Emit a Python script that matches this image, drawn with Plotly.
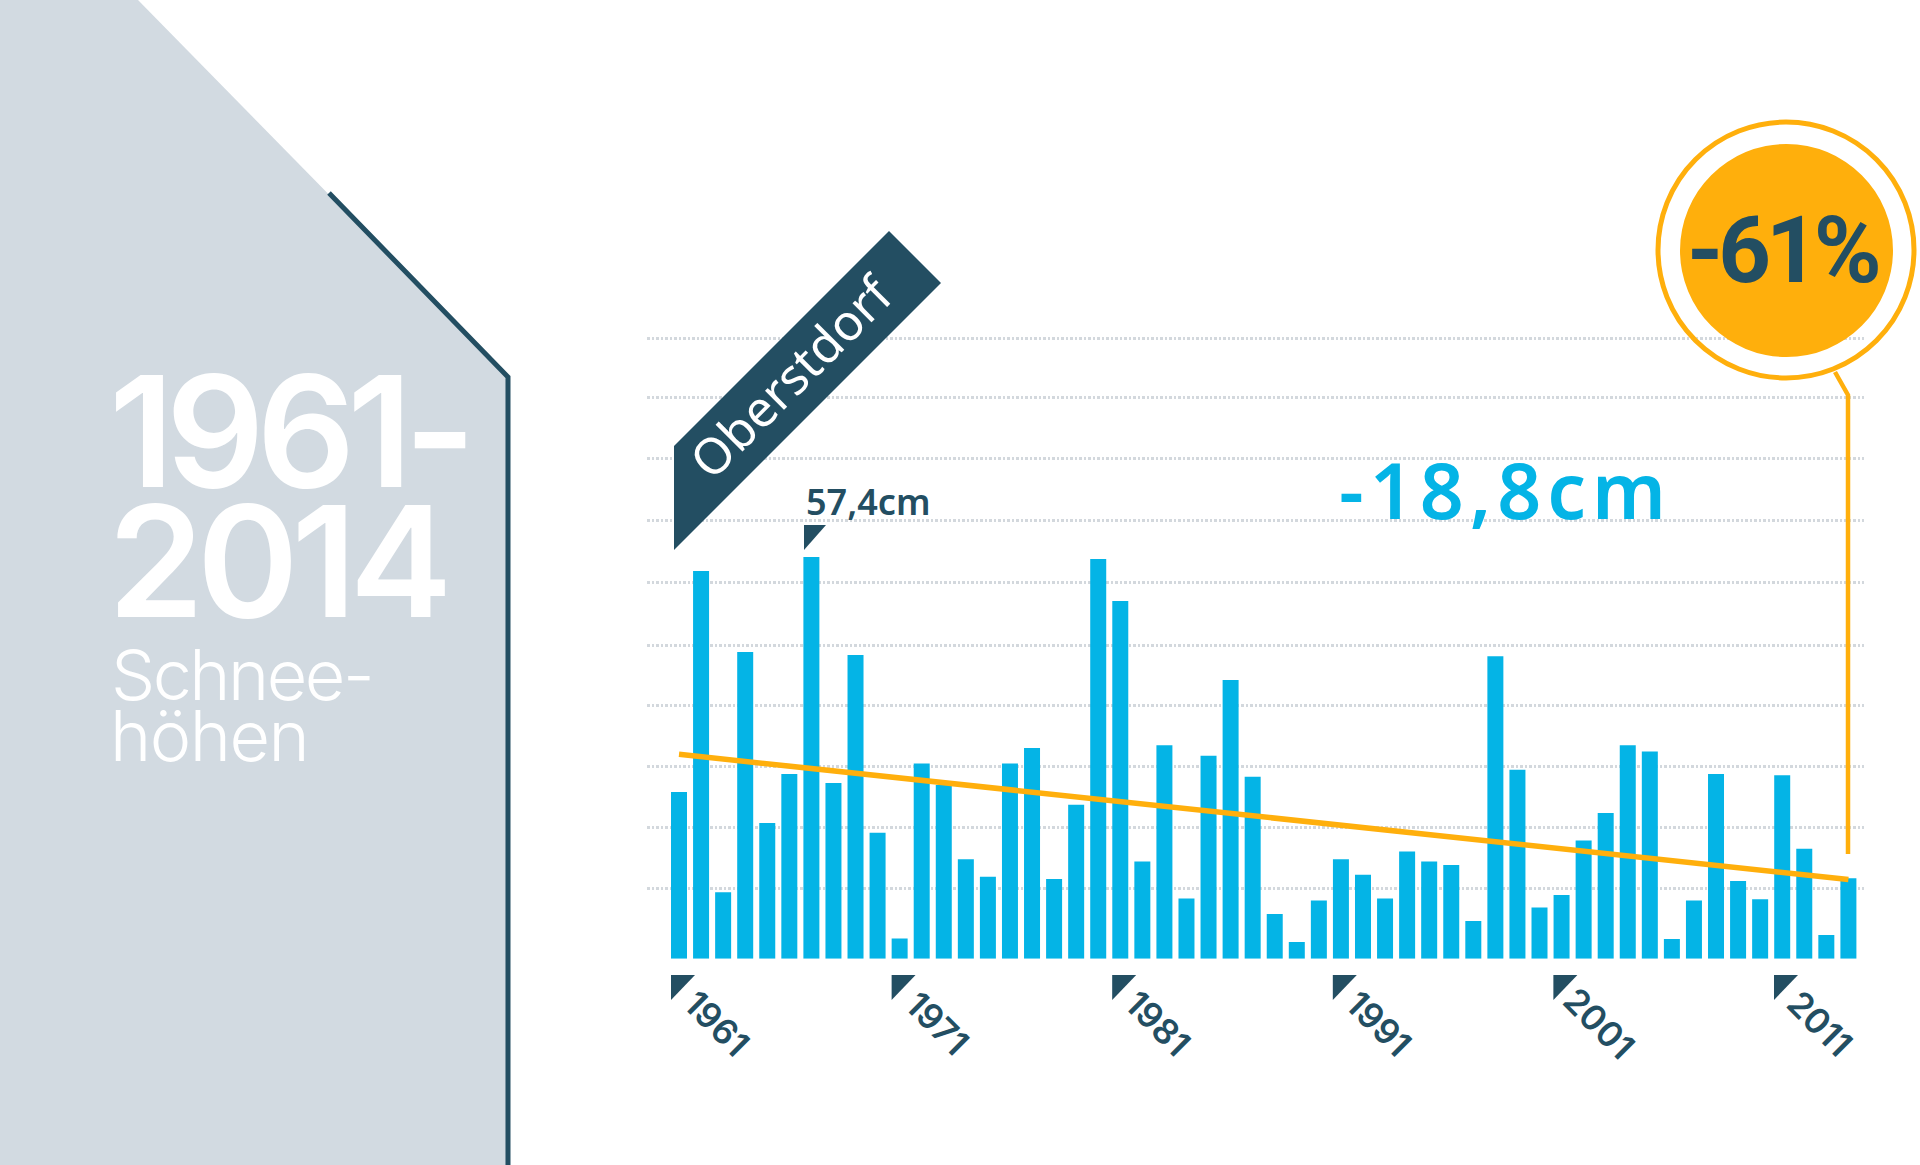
import plotly.graph_objs as go

W, H = 1920, 1165

# Schneehoehen Oberstdorf [cm]
years = list(range(1961, 2015))
snow_cm = [23.8, 55.4, 9.5, 43.8, 19.4, 26.4, 57.4, 25.1, 43.4, 18.0,
           2.9, 27.9, 24.8, 14.2, 11.7, 27.9, 30.1, 11.4, 22.0, 57.1,
           51.1, 13.9, 30.5, 8.6, 29.0, 39.8, 26.0, 6.4, 2.4, 8.3,
           14.2, 12.0, 8.6, 15.3, 13.9, 13.4, 5.4, 43.2, 27.0, 7.3,
           9.1, 16.9, 20.8, 30.5, 29.6, 2.8, 8.3, 26.4, 11.1, 8.5,
           26.2, 15.7, 3.4, 11.5]
trend_years = [1961, 2014]
trend_cm = [29.2, 11.3]
grid_cm = [0, 9.98, 18.8, 27.5, 36.2, 44.8, 53.7, 62.6, 71.4, 80.2, 88.6]
tick_years = [1961, 1971, 1981, 1991, 2001, 2011]

BLUE = '#04b4e6'
ORANGE = '#ffaf0c'
DARK = '#234e62'
PANEL = '#d2dae1'
GRID = '#d3d8dd'
FONT = 'Noto Sans'

# pixel helpers for the decoration around the chart
def px(x):
    return x / W

def py(y):
    return 1 - y / H

def path(points, close=True):
    d = 'M ' + ' L '.join(f'{px(x):.5f},{py(y):.5f}' for x, y in points)
    return d + (' Z' if close else '')

def spaced(text, spacing):
    return f'<span style="letter-spacing:{spacing}px">{text}</span>'

def label(text, x, y, size, color, weight=400, angle=0, anchor='left', family=FONT):
    return dict(text=text, x=px(x), y=py(y), xref='paper', yref='paper',
                xanchor=anchor, yanchor='middle', showarrow=False, textangle=angle,
                font=dict(family=family, size=size, color=color, weight=weight))

fig = go.Figure()
fig.add_trace(go.Bar(x=years, y=snow_cm, marker=dict(color=BLUE, line_width=0)))
fig.add_trace(go.Scatter(x=trend_years, y=trend_cm, mode='lines',
                         line=dict(color=ORANGE, width=5.5)))

shapes = [
    dict(type='path', path=path([(0, 0), (138, 0), (508, 377), (508, H), (0, H)]),
         fillcolor=PANEL, line_width=0, layer='below'),
    dict(type='path', path=path([(329, 193), (508, 377), (508, H)], close=False),
         line=dict(color=DARK, width=5)),
    # Oberstdorf banner
    dict(type='path', path=path([(889, 231), (941, 283), (674, 550), (674, 446)]),
         fillcolor=DARK, line_width=0),
    # 57,4cm pointer
    dict(type='path', path=path([(804, 525), (826, 525), (804, 550)]),
         fillcolor=DARK, line_width=0),
    # -61% bubble and its stem
    dict(type='path', path=path([(1835, 372), (1848, 395), (1848, 854)], close=False),
         line=dict(color=ORANGE, width=4.5)),
    dict(type='circle', xref='paper', yref='paper', x0=px(1658), x1=px(1914), y0=py(122), y1=py(378),
         line=dict(color=ORANGE, width=5)),
    dict(type='circle', xref='paper', yref='paper', x0=px(1680), x1=px(1893), y0=py(144), y1=py(357),
         fillcolor=ORANGE, line_width=0),
]
for s in shapes:
    if s['type'] == 'path':
        s.update(xref='paper', yref='paper')

pitch = 22.06
x_start = 679
for yr in tick_years:
    left = x_start + (yr - 1961) * pitch - 8
    shapes.append(dict(type='path', xref='paper', yref='paper', line_width=0, fillcolor=DARK,
                       path=path([(left, 975), (left + 24, 975), (left, 1000)])))

annotations = [
    label(spaced('1961-', -8), 107, 431, 154, 'white', 600, family='Inter'),
    label(spaced('2014', -7), 106, 561, 154, 'white', 600, family='Inter'),
    label(spaced('Schnee-', -2.5), 109, 674, 70, 'white', 300, family='Inter'),
    label(spaced('höhen', -1.5), 108, 735, 70, 'white', 300, family='Inter'),
    label('Oberstdorf', 791, 376, 50, 'white', 400, angle=-45, anchor='center'),
    label('57,4cm', 804, 501, 36, DARK, 600),
    label(spaced('-18,8cm', 6), 1337, 489, 77, BLUE, 600),
    label(spaced('-61%', -5), 1783, 250, 92, DARK, 700, anchor='center', family='Roboto'),
]
for yr in tick_years:
    annotations.append(label(str(yr), x_start + (yr - 1961) * pitch + 38, 1023, 35, DARK, 600,
                             angle=45, anchor='center', family='Inter'))

base_y = 958.7
cm_px = 7.0
y_top = 90
fig.update_layout(
    width=W, height=H, margin=dict(l=0, r=0, t=0, b=0),
    paper_bgcolor='white', plot_bgcolor='rgba(0,0,0,0)',
    showlegend=False, bargap=0.275,
    shapes=shapes, annotations=annotations,
    xaxis=dict(domain=[px(647), px(1864)], range=[1961 - 32 / pitch, 2014 + 15.6 / pitch],
               visible=False),
    yaxis=dict(domain=[py(base_y), py(base_y - y_top * cm_px)], range=[0, y_top],
               tickvals=grid_cm, showticklabels=False, ticks='', zeroline=False,
               showgrid=True, gridcolor=GRID, gridwidth=3, griddash='2.5px,2px'),
)

fig.write_html("out.html", config=dict(displayModeBar=False),
               post_script="document.body.style.margin='0';")
